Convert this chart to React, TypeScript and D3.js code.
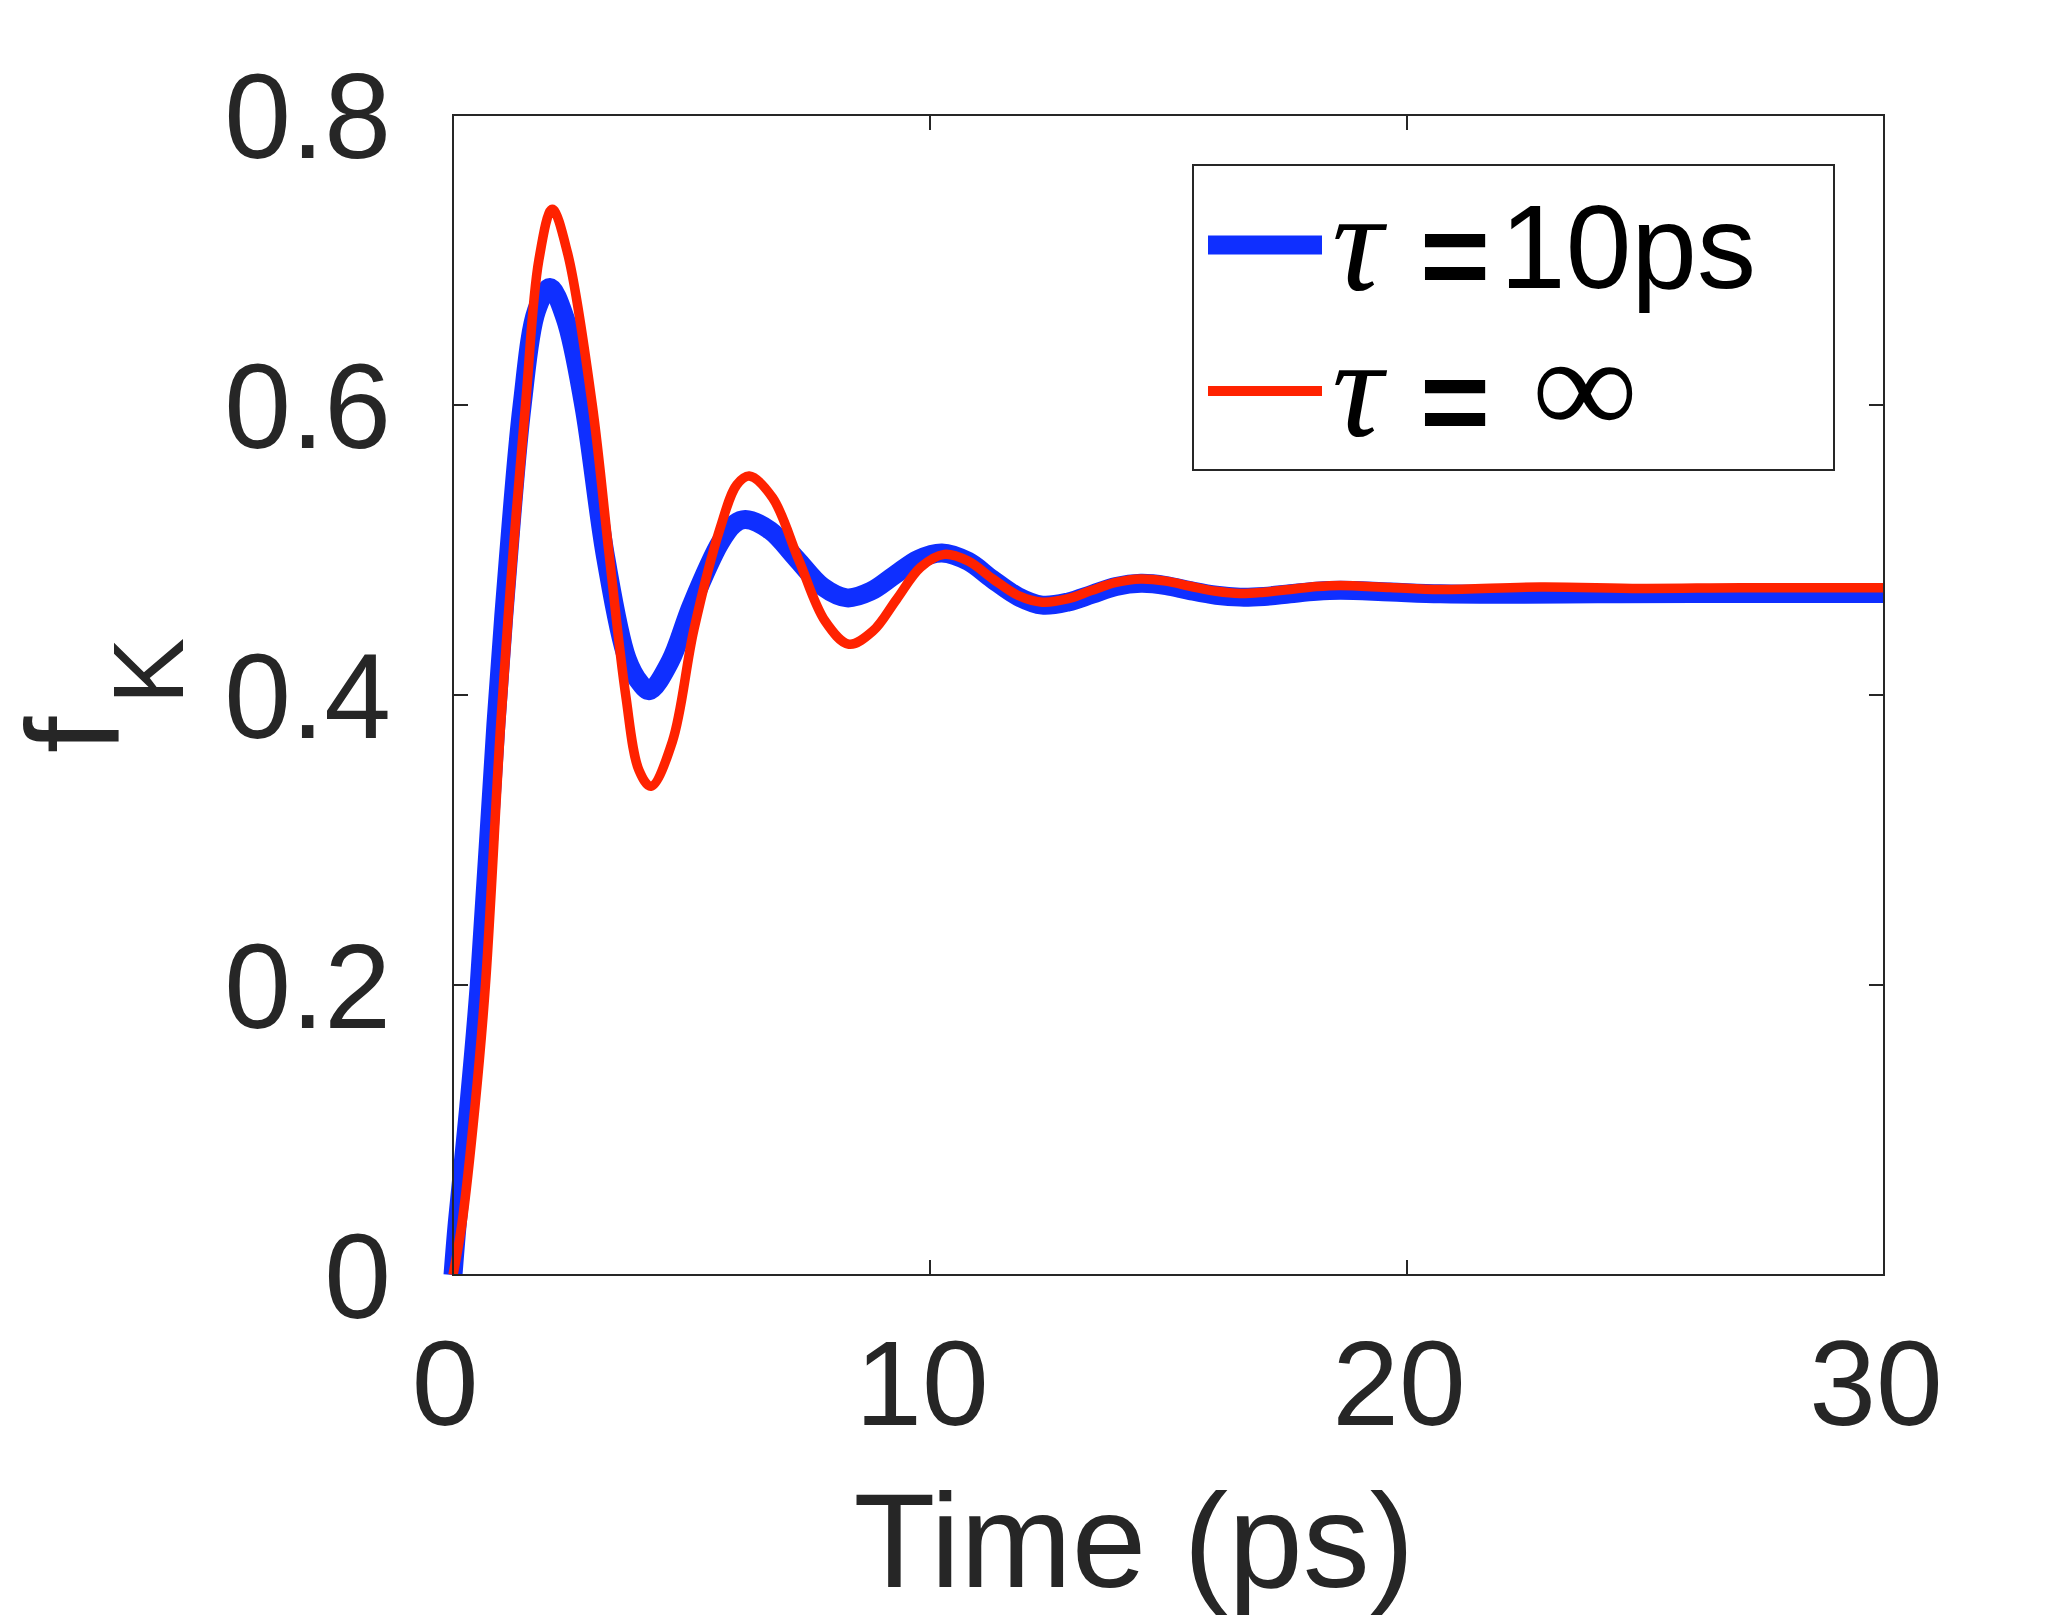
import React from 'react';
import * as d3 from 'd3';

// tau = infinity (red, thin)
const timeRed = [0, 0.19, 0.46, 0.68, 1.0, 1.24, 1.52, 1.8, 2.08, 2.4, 2.92, 3.28, 3.62, 3.9, 4.15, 4.6, 5.05, 5.6, 5.95, 6.21, 6.7, 7.25, 7.8, 8.3, 8.8, 9.3, 9.8, 10.3, 10.8, 11.32, 11.85, 12.35, 12.9, 13.38, 13.9, 14.42, 14.95, 15.46, 16.0, 16.5, 17.0, 17.55, 18.1, 18.6, 19.65, 20.7, 22.8, 24.9, 27, 30];
const fRed = [0, 0.036, 0.116, 0.2, 0.38, 0.49, 0.6, 0.7, 0.735, 0.705, 0.6, 0.495, 0.4, 0.348, 0.337, 0.368, 0.445, 0.515, 0.545, 0.551, 0.536, 0.493, 0.451, 0.435, 0.444, 0.466, 0.488, 0.497, 0.4924, 0.48, 0.4686, 0.464, 0.4664, 0.472, 0.4776, 0.48, 0.4785, 0.475, 0.4715, 0.47, 0.4709, 0.4728, 0.4748, 0.4756, 0.4741, 0.4727, 0.4745, 0.4735, 0.474, 0.474];

// tau = 10 ps (blue, thick)
const timeBlue = [0, 0.09, 0.33, 0.55, 0.9, 1.15, 1.45, 1.75, 2.03, 2.35, 2.74, 3.2, 3.65, 3.93, 4.12, 4.55, 5.0, 5.6, 5.9, 6.13, 6.65, 7.2, 7.75, 8.26, 8.75, 9.25, 9.75, 10.25, 10.8, 11.3, 11.85, 12.35, 12.9, 13.4, 13.9, 14.42, 14.95, 15.45, 16.0, 16.5, 17.0, 17.55, 18.1, 18.6, 19.65, 20.7, 22, 24, 26, 28, 30];
const fBlue = [0, 0.036, 0.116, 0.2, 0.38, 0.49, 0.6, 0.665, 0.681, 0.66, 0.6, 0.495, 0.425, 0.408, 0.403, 0.423, 0.462, 0.505, 0.518, 0.521, 0.5134, 0.494, 0.4746, 0.467, 0.4714, 0.4825, 0.4936, 0.498, 0.4922, 0.48, 0.4678, 0.462, 0.4642, 0.4695, 0.4748, 0.477, 0.4755, 0.472, 0.4688, 0.4675, 0.468, 0.4698, 0.4715, 0.4722, 0.471, 0.4698, 0.4695, 0.4698, 0.47, 0.47, 0.47];

const xTicks = [0, 10, 20, 30];
const yTicks = [0, 0.2, 0.4, 0.6, 0.8];
const yTickLabels = ['0', '0.2', '0.4', '0.6', '0.8'];

const W = 2069;
const H = 1617;
const plot = { left: 453, right: 1884, top: 115, bottom: 1275 };
const axisColor = '#262626';
const sans = '"Liberation Sans", Arial, Helvetica, sans-serif';
const serif = '"Liberation Serif", "Times New Roman", serif';

const App = () => {
  const x = d3.scaleLinear().domain([0, 30]).range([plot.left, plot.right]);
  const y = d3.scaleLinear().domain([0, 0.8]).range([plot.bottom, plot.top]);

  // smooth curve through the read-off points
  const line = d3.line<[number, number]>()
    .x(d => x(d[0]))
    .y(d => y(d[1]))
    .curve(d3.curveCatmullRom.alpha(0.5));

  const redPts = timeRed.map((t, i) => [t, fRed[i]] as [number, number]);
  const bluePts = timeBlue.map((t, i) => [t, fBlue[i]] as [number, number]);

  const tickLen = 15;

  return (
    <svg width={W} height={H} style={{ position: 'absolute', left: 0, top: 0, background: '#fff' }}>
      <rect x={0} y={0} width={W} height={H} fill="#fff" />

      {/* curves */}
      <path d={line(bluePts) || ''} fill="none" stroke="#0f2fff" strokeWidth={19} strokeLinejoin="round" />
      <path d={line(redPts) || ''} fill="none" stroke="#ff2200" strokeWidth={9.5} strokeLinejoin="round" />

      {/* box */}
      <rect x={plot.left} y={plot.top} width={plot.right - plot.left} height={plot.bottom - plot.top}
        fill="none" stroke={axisColor} strokeWidth={2} />

      {/* x ticks */}
      {xTicks.map(t => (
        <g key={'x' + t}>
          <line x1={x(t)} x2={x(t)} y1={plot.bottom} y2={plot.bottom - tickLen} stroke={axisColor} strokeWidth={2} />
          <line x1={x(t)} x2={x(t)} y1={plot.top} y2={plot.top + tickLen} stroke={axisColor} strokeWidth={2} />
          <text x={x(t) - 8} y={plot.bottom + 150} textAnchor="middle" fontFamily={sans} fontSize={120} fill={axisColor}>
            {t}
          </text>
        </g>
      ))}

      {/* y ticks */}
      {yTicks.map((v, i) => (
        <g key={'y' + v}>
          <line x1={plot.left} x2={plot.left + tickLen} y1={y(v)} y2={y(v)} stroke={axisColor} strokeWidth={2} />
          <line x1={plot.right} x2={plot.right - tickLen} y1={y(v)} y2={y(v)} stroke={axisColor} strokeWidth={2} />
          <text x={391} y={y(v) + 43} textAnchor="end" fontFamily={sans} fontSize={120} fill={axisColor}>
            {yTickLabels[i]}
          </text>
        </g>
      ))}

      {/* axis labels */}
      <text x={1134} y={1587} textAnchor="middle" fontFamily={sans} fontSize={134} fill={axisColor}>
        Time (ps)
      </text>
      <text transform="translate(119, 753) rotate(-90)" fontFamily={sans} fontSize={131} fill={axisColor}>
        f<tspan dx={12} dy={64} fontSize={100}>K</tspan>
      </text>

      {/* legend */}
      <rect x={1193} y={165} width={641} height={305} fill="#fff" stroke={axisColor} strokeWidth={2} />
      <line x1={1208} x2={1322} y1={245} y2={245} stroke="#0f2fff" strokeWidth={19} />
      <line x1={1208} x2={1322} y1={391} y2={391} stroke="#ff2200" strokeWidth={10} />

      <text x={1332} y={290} fontFamily={serif} fontStyle="italic" fontSize={142} fill="#000">τ</text>
      <text x={1420} y={297} fontFamily={sans} fontWeight="bold" fontSize={120} fill="#000">=</text>
      <text x={1500} y={288} fontFamily={sans} fontSize={118} fill="#000">10ps</text>

      <text x={1332} y={436} fontFamily={serif} fontStyle="italic" fontSize={142} fill="#000">τ</text>
      <text x={1420} y={443} fontFamily={sans} fontWeight="bold" fontSize={120} fill="#000">=</text>
      <text x={1532} y={434} fontFamily={serif} fontSize={140} textLength={106} lengthAdjust="spacingAndGlyphs" fill="#000">∞</text>
    </svg>
  );
};

export default App;
